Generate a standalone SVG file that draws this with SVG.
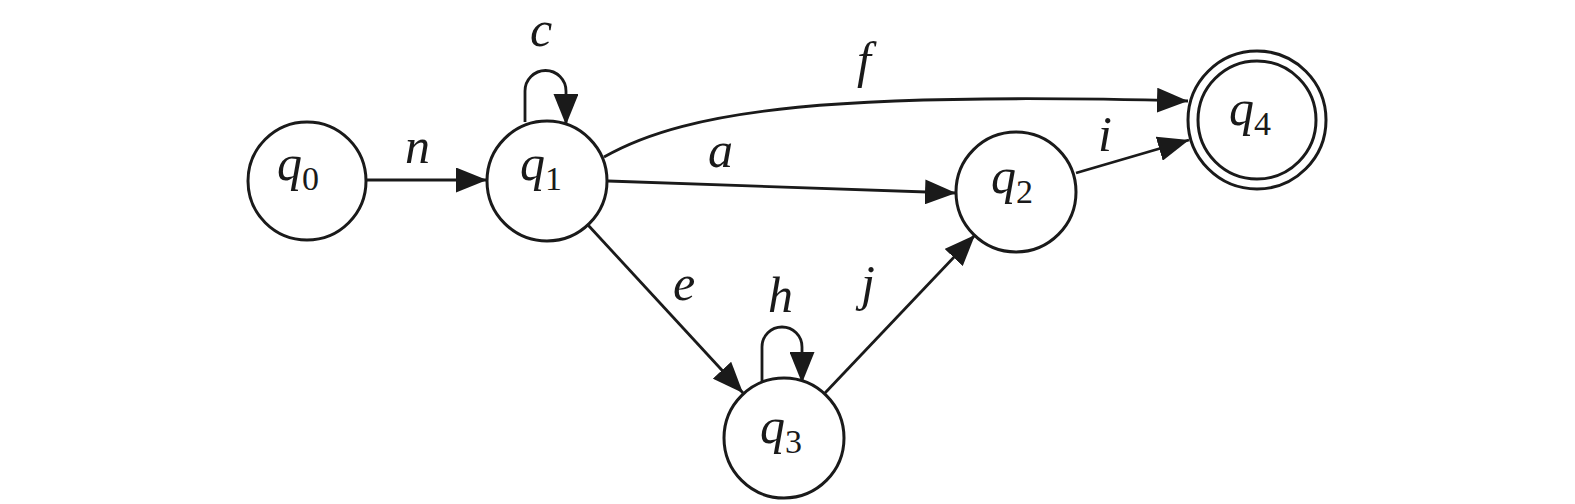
<svg xmlns="http://www.w3.org/2000/svg" width="1575" height="504" viewBox="0 0 1575 504">
<style>
.node{fill:#fff;stroke:#1a1a1a;stroke-width:3}
.edge{fill:none;stroke:#1a1a1a;stroke-width:2.8}
.lab{font-family:"Liberation Serif","Times New Roman",serif;font-style:italic;font-size:50px;fill:#1a1a1a}
.sub{font-family:"Liberation Serif","Times New Roman",serif;font-style:normal;font-size:34px}
</style>
<defs>
<marker id="arr" markerUnits="userSpaceOnUse" markerWidth="31" markerHeight="25" refX="31" refY="12.5" orient="auto" viewBox="0 0 31 25">
<path d="M0,0 L31,12.5 L0,25 z" fill="#1a1a1a"/>
</marker>
</defs>
<rect width="1575" height="504" fill="#fff"/>
<g id="connectors">
<path class="edge" d="M367 180 L487 180" marker-end="url(#arr)"/>
<path class="edge" d="M525 122 L525 91 A20.5 20.5 0 0 1 566 91 L566 125" marker-end="url(#arr)"/>
<path class="edge" d="M608 181 L956 193" marker-end="url(#arr)"/>
<path class="edge" d="M604 157 C690 108 840 92 1188 101" marker-end="url(#arr)"/>
<path class="edge" d="M1076 173 L1189 140" marker-end="url(#arr)"/>
<path class="edge" d="M588 225 L743 393" marker-end="url(#arr)"/>
<path class="edge" d="M762 382 L762 347 A20 20 0 0 1 802 347 L802 383" marker-end="url(#arr)"/>
<path class="edge" d="M825 393 L975 235" marker-end="url(#arr)"/>
<text class="lab" x="405" y="163">n</text>
<text class="lab" x="530" y="46">c</text>
<text class="lab" x="708" y="167">a</text>
<text class="lab" x="857" y="77">f</text>
<text class="lab" x="1098" y="151">i</text>
<text class="lab" x="673" y="300">e</text>
<text class="lab" x="768" y="312">h</text>
<text class="lab" x="861" y="300">j</text>
</g>
<g id="q0">
<circle class="node" cx="307" cy="181" r="59"/>
<text class="lab" x="277" y="180">q<tspan class="sub" dy="10">0</tspan></text>
</g>
<g id="q1">
<circle class="node" cx="547" cy="181" r="60"/>
<text class="lab" x="520" y="180">q<tspan class="sub" dy="10">1</tspan></text>
</g>
<g id="q2">
<circle class="node" cx="1016" cy="192" r="60"/>
<text class="lab" x="991" y="193">q<tspan class="sub" dy="10">2</tspan></text>
</g>
<g id="q3">
<circle class="node" cx="784" cy="438" r="60"/>
<text class="lab" x="760" y="443">q<tspan class="sub" dy="10">3</tspan></text>
</g>
<g id="q4">
<circle class="node" cx="1257" cy="120" r="69"/>
<circle class="node" cx="1257" cy="120" r="59"/>
<text class="lab" x="1229" y="125">q<tspan class="sub" dy="10">4</tspan></text>
</g>
</svg>
